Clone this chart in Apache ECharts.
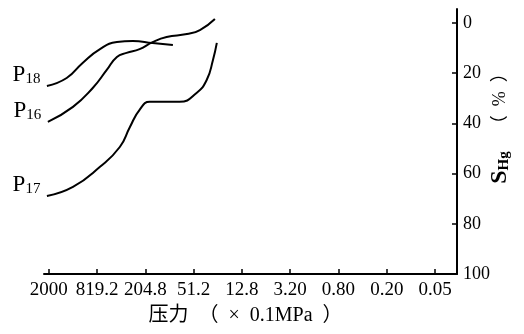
<!DOCTYPE html>
<html>
<head>
<meta charset="utf-8">
<script src="https://cdn.jsdelivr.net/npm/echarts@6/dist/echarts.min.js"></script>
<style>
  html, body { margin: 0; padding: 0; background: #fff; }
  #chart { width: 524px; height: 334px; }
</style>
</head>
<body>
<div id="chart"></div>
<script>
// pressure ticks, evenly spaced (log scale), x = tick index
const xLabels = ['2000', '819.2', '204.8', '51.2', '12.8', '3.20', '0.80', '0.20', '0.05'];
const xTicks = [0, 1, 2, 3, 4, 5, 6, 7, 8];
const yTicks = [0, 20, 40, 60, 80, 100];

// [pressure position, S_Hg %]
const p18 = [[-0.04, 25.1], [0.37, 21.9], [0.70, 15.9], [1.06, 10.4], [1.41, 7.6],
  [1.74, 7.2], [2.15, 8.0], [2.57, 8.8]];
const p16 = [[-0.02, 39.4], [0.50, 33.4], [0.91, 25.9], [1.20, 18.7], [1.41, 13.5],
  [1.61, 11.9], [1.88, 10.4], [2.15, 7.6], [2.44, 5.6], [2.86, 4.4], [3.13, 2.8], [3.44, -1.6]];
const p17 = [[-0.04, 68.9], [0.50, 65.3], [1.06, 57.3], [1.47, 49.4], [1.68, 41.4],
  [1.88, 34.6], [2.09, 31.4], [2.71, 31.4], [3.06, 27.9], [3.27, 22.7], [3.40, 14.7], [3.48, 7.9]];

const serif = 'Liberation Serif';

function curve(name, sub, data) {
  const pts = data.map((d, i) => {
    if (i > 0) return d;
    return {
      value: d,
      label: {
        show: true,
        position: 'left',
        distance: 5,
        offset: [-1, -11],
        formatter: '{p|P}{s|' + sub + '}',
        rich: {
          p: { fontFamily: serif, fontSize: 23, color: '#000', lineHeight: 24 },
          s: { fontFamily: serif, fontSize: 15, color: '#000', padding: [9, 0, 0, 0], lineHeight: 24 }
        }
      }
    };
  });
  return {
    name: name,
    type: 'line',
    smooth: 0.5,
    symbol: 'circle',
    symbolSize: 1,
    showSymbol: true,
    showAllSymbol: true,
    itemStyle: { color: 'rgba(0,0,0,0)' },
    lineStyle: { color: '#000', width: 2 },
    label: { show: false },
    data: pts
  };
}

const chart = echarts.init(document.getElementById('chart'));
chart.setOption({
  animation: false,
  grid: { left: 44, right: 67, top: 9, bottom: 60, outerBoundsMode: 'none' },
  xAxis: {
    type: 'value',
    min: -0.1,
    max: 8.455,
    axisLine: { onZero: false, lineStyle: { color: '#000', width: 2 } },
    axisTick: { inside: true, length: 5, customValues: xTicks, lineStyle: { color: '#000', width: 1.5 } },
    axisLabel: {
      customValues: xTicks,
      margin: 7,
      color: '#000',
      fontFamily: serif,
      fontSize: 19,
      formatter: v => xLabels[Math.round(v)]
    },
    splitLine: { show: false },
    name: '压力  （  ×  0.1MPa  ）',
    nameLocation: 'middle',
    nameGap: 32,
    nameTextStyle: { color: '#000', fontFamily: serif + ', Noto Sans CJK SC', fontSize: 20, padding: [0, 10, 0, 0] }
  },
  yAxis: {
    type: 'value',
    position: 'right',
    inverse: true,
    min: -5.58,
    max: 100,
    axisLine: { show: true, onZero: false, lineStyle: { color: '#000', width: 2 } },
    axisTick: { show: true, inside: true, length: 5, customValues: yTicks, lineStyle: { color: '#000', width: 1.5 } },
    axisLabel: { customValues: yTicks, margin: 6, color: '#000', fontFamily: serif, fontSize: 18 },
    splitLine: { show: false }
  },
  graphic: [{
    type: 'text',
    x: 500,
    y: 124,
    rotation: Math.PI / 2,
    style: {
      text: '{s|S}{h|Hg}{p|    （  %  ）}',
      align: 'center',
      verticalAlign: 'middle',
      rich: {
        s: { fontFamily: serif, fontWeight: 'bold', fontSize: 24, fill: '#000', lineHeight: 26 },
        h: { fontFamily: serif, fontWeight: 'bold', fontSize: 15, fill: '#000', padding: [8, 0, 0, 0], lineHeight: 26 },
        p: { fontFamily: serif + ', Noto Sans CJK SC', fontSize: 18, fill: '#000', lineHeight: 26 }
      }
    }
  }],
  series: [
    curve('P18', '18', p18),
    curve('P16', '16', p16),
    curve('P17', '17', p17)
  ]
});
</script>
</body>
</html>
